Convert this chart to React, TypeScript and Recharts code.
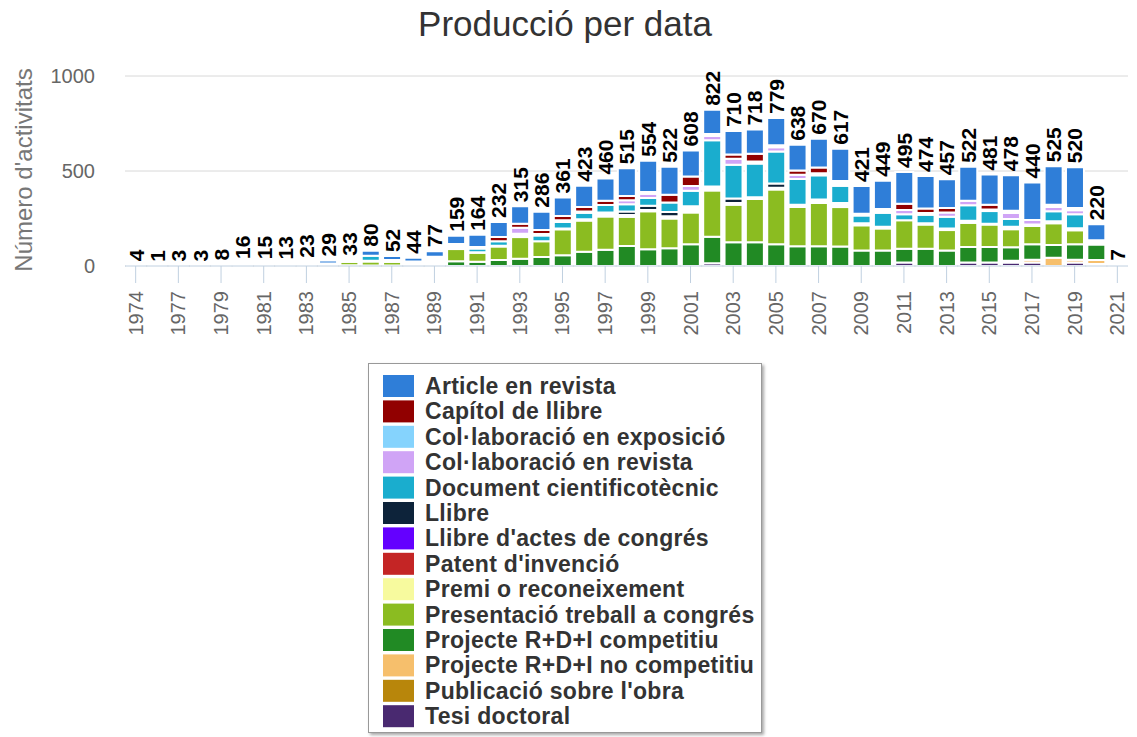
import React from "react";
import { BarChart, Bar, XAxis, YAxis, CartesianGrid, LabelList } from "recharts";

const years = ["1974","1976","1977","1978","1979","1980","1981","1982","1983","1984","1985","1986","1987","1988","1989","1990","1991","1992","1993","1994","1995","1996","1997","1998","1999","2000","2001","2002","2003","2004","2005","2006","2007","2008","2009","2010","2011","2012","2013","2014","2015","2016","2017","2018","2019","2020","2021"];
const totals = [4,1,3,3,8,16,15,13,23,29,33,80,52,44,77,159,164,232,315,286,361,423,460,515,554,522,608,822,710,718,779,638,670,617,421,449,495,474,457,522,481,478,440,525,520,220,7];

const article = [2,1,2,1,3,4,4,3,5,16,4,26,20,20,28,43,64,80,92,96,98,113,116,147,165,147,137,127,123,127,143,135,151,170,146,149,168,172,152,179,158,187,198,203,215,84,3];
const capitol = [0,0,0,1,2,3,2,2,3,2,2,0,3,3,4,4,3,22,22,22,22,23,23,22,5,41,50,5,22,41,6,23,31,9,3,7,32,23,23,0,25,6,0,5,5,4,0];
const colExposicio = [0,0,0,0,0,0,0,0,0,0,0,0,0,0,3,3,2,0,0,3,4,3,0,0,4,0,0,6,0,5,5,0,5,8,3,6,0,4,0,0,4,6,0,6,6,4,0];
const colRevista = [0,0,0,0,0,0,0,0,2,0,0,0,2,2,4,4,3,0,31,4,5,4,0,21,22,0,25,22,32,6,23,22,6,8,3,7,22,5,23,23,5,32,23,23,22,4,0];
const document = [0,0,0,0,0,2,2,1,3,3,3,26,3,4,5,4,20,23,5,31,34,34,39,38,41,50,82,244,178,177,168,136,127,91,41,73,32,45,61,82,66,41,3,52,73,4,2];
const llibre = [0,0,0,0,1,2,2,2,3,2,2,2,2,3,4,3,2,2,4,0,3,4,6,19,22,22,8,5,23,3,22,4,5,6,4,3,0,3,3,4,2,4,3,4,4,3,0];
const llibreActes = [0,0,0,0,0,0,0,0,0,0,0,0,0,0,3,3,0,0,3,0,0,0,5,3,2,4,8,5,3,0,3,0,4,5,0,0,0,0,0,0,0,0,0,0,0,0,0];
const patent = [0,0,0,0,0,0,0,0,0,0,0,0,0,0,3,3,0,0,3,0,0,0,5,3,2,4,8,5,3,3,3,3,4,5,3,3,0,0,3,3,0,4,0,3,3,0,0];
const premi = [0,0,0,0,0,0,0,0,0,0,0,2,0,2,4,3,0,2,3,0,2,3,5,3,3,4,8,5,3,3,3,4,5,5,4,3,0,4,3,4,3,4,3,4,4,4,0];
const presentacio = [2,0,1,1,2,3,3,3,4,4,18,22,20,6,7,64,47,71,114,82,136,164,175,154,200,157,168,244,198,228,289,207,228,207,132,116,150,127,107,127,118,95,95,114,73,0,0];
const projecteComp = [0,0,0,0,0,2,2,2,3,2,4,2,2,4,6,25,23,32,38,48,57,75,86,105,88,93,114,139,125,125,114,104,104,103,82,82,73,91,82,82,82,72,82,68,82,82,2];
const projecteNoComp = [0,0,0,0,0,0,0,0,0,0,0,0,0,0,2,0,0,0,0,0,0,0,0,0,0,0,0,0,0,0,0,0,0,0,0,0,0,0,0,0,0,5,15,43,15,20,0];
const publicacio = [0,0,0,0,0,0,0,0,0,0,0,0,0,0,0,0,0,0,0,0,0,0,0,0,0,0,0,0,0,0,0,0,0,0,0,0,0,0,0,0,0,4,0,0,0,5,0];
const tesi = [0,0,0,0,0,0,0,0,0,0,0,0,0,0,4,0,0,0,0,0,0,0,0,0,0,0,0,15,0,0,0,0,0,0,0,0,18,0,0,18,18,18,18,0,18,6,0];

const yTicks = [0, 500, 1000];

// stack order: bottom -> top
const series = [
  { key: "tesi", name: "Tesi doctoral", color: "#492970", values: tesi },
  { key: "publicacio", name: "Publicació sobre l'obra", color: "#b8860b", values: publicacio },
  { key: "projecteNoComp", name: "Projecte R+D+I no competitiu", color: "#f6bf6c", values: projecteNoComp },
  { key: "projecteComp", name: "Projecte R+D+I competitiu", color: "#218a24", values: projecteComp },
  { key: "presentacio", name: "Presentació treball a congrés", color: "#8bbc21", values: presentacio },
  { key: "premi", name: "Premi o reconeixement", color: "#f7fa9e", values: premi },
  { key: "patent", name: "Patent d'invenció", color: "#c42525", values: patent },
  { key: "llibreActes", name: "Llibre d'actes de congrés", color: "#6400ff", values: llibreActes },
  { key: "llibre", name: "Llibre", color: "#0d233a", values: llibre },
  { key: "document", name: "Document cientificotècnic", color: "#1aadce", values: document },
  { key: "colRevista", name: "Col·laboració en revista", color: "#d0a4f6", values: colRevista },
  { key: "colExposicio", name: "Col·laboració en exposició", color: "#85d3fd", values: colExposicio },
  { key: "capitol", name: "Capítol de llibre", color: "#910000", values: capitol },
  { key: "article", name: "Article en revista", color: "#2f7ed8", values: article },
];

const data = years.map((year, i) => {
  const row: Record<string, number | string> = { year, total: totals[i] };
  series.forEach((s) => {
    row[s.key] = s.values[i];
  });
  return row;
});

const FONT = "'Liberation Sans', Arial, Helvetica, sans-serif";

const TotalLabel = (props: any) => {
  const x = Number(props.x);
  const y = Number(props.y);
  const w = Number(props.width);
  const cx = x + w / 2;
  const ty = y - 4;
  return (
    <text
      transform={`translate(${cx},${ty}) rotate(-90)`}
      textAnchor="start"
      dominantBaseline="central"
      fontSize={21}
      fontWeight="bold"
      fill="#000"
      fontFamily={FONT}
    >
      {props.value}
    </text>
  );
};

const XTick = (props: any) => {
  const { x, payload } = props;
  return (
    <text
      transform={`translate(${x},291) rotate(-90)`}
      textAnchor="end"
      dominantBaseline="central"
      fontSize={20}
      fill="#666"
      fontFamily={FONT}
    >
      {payload.value}
    </text>
  );
};

const YTick = (props: any) => {
  const { y, payload } = props;
  return (
    <text x={95} y={y} textAnchor="end" dominantBaseline="central" fontSize={20} fill="#666" fontFamily={FONT}>
      {payload.value}
    </text>
  );
};

const YTitle = () => (
  <text
    transform="translate(23,170) rotate(-90)"
    textAnchor="middle"
    dominantBaseline="central"
    fontSize={24}
    fill="#777"
    fontFamily={FONT}
  >
    Número d'activitats
  </text>
);

const legendItems = [...series].reverse();

const LegendBox = () => (
  <div
    style={{
      position: "absolute",
      left: 368,
      top: 363,
      width: 394,
      height: 370,
      boxSizing: "border-box",
      border: "1px solid #999",
      boxShadow: "2px 2px 3px rgba(0,0,0,0.35)",
      background: "#fff",
    }}
  >
    <svg width={392} height={368} style={{ display: "block" }}>
      {legendItems.map((s, i) => {
        const cy = 22 + i * 25.4;
        return (
          <g key={s.key}>
            <rect x={14} y={cy - 11} width={31} height={22} fill={s.color} />
            <text
              x={56}
              y={cy}
              dominantBaseline="central"
              fontSize={23}
              fontWeight="bold"
              letterSpacing={0.3}
              fill="#333"
              fontFamily={FONT}
            >
              {s.name}
            </text>
          </g>
        );
      })}
    </svg>
  </div>
);

export default function App() {
  return (
    <div style={{ position: "absolute", left: 0, top: 0, width: 1137, height: 737, background: "#fff", fontFamily: FONT }}>
      <div
        style={{
          position: "absolute",
          left: 0,
          top: 2,
          width: 1130,
          textAlign: "center",
          fontSize: 35,
          lineHeight: "44px",
          color: "#333",
          fontFamily: FONT,
        }}
      >
        Producció per data
      </div>
      <div style={{ position: "absolute", left: 0, top: 0 }}>
        <BarChart
          width={1137}
          height={350}
          data={data}
          margin={{ top: 76, right: 9, left: 0, bottom: 0 }}
          barSize={18}
        >
          <CartesianGrid vertical={false} stroke="#d8d8d8" />
          <XAxis
            dataKey="year"
            interval={1}
            height={84}
            tickSize={17}
            tickLine={{ stroke: "#c0d0e0" }}
            axisLine={{ stroke: "#c0d0e0" }}
            tick={<XTick />}
          />
          <YAxis
            type="number"
            domain={[0, 1000]}
            ticks={yTicks}
            width={125}
            axisLine={false}
            tickLine={false}
            tick={<YTick />}
            label={<YTitle />}
          />
          {series.map((s) => (
            <Bar
              key={s.key}
              dataKey={s.key}
              name={s.name}
              stackId="a"
              fill={s.color}
              stroke="#fff"
              strokeWidth={2}
              isAnimationActive={false}
            >
              {s.key === "article" ? <LabelList dataKey="total" content={<TotalLabel />} /> : null}
            </Bar>
          ))}
        </BarChart>
      </div>
      <LegendBox />
    </div>
  );
}
